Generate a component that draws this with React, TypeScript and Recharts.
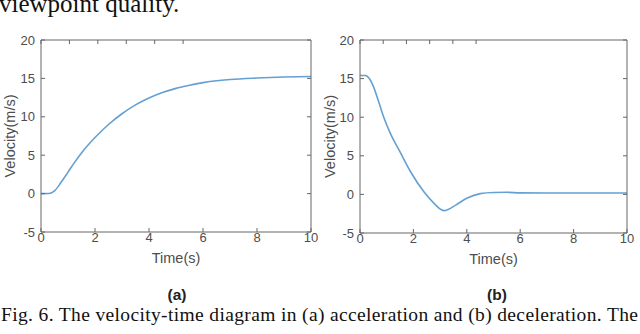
import React from 'react';
import { LineChart, Line, XAxis, YAxis } from 'recharts';

// shared axis ticks
const timeTicks = [0, 2, 4, 6, 8, 10];
const velocityTicks = [-5, 0, 5, 10, 15, 20];

// (a) acceleration
const accelTime = [0, 0.3, 0.5, 0.75, 1.0, 1.25, 1.5, 2.0, 2.5, 3.0, 3.5, 4.0, 4.5, 5.0, 5.5, 6.0, 7.0, 8.0, 9.0, 10.0];
const accelVelocity = [0, 0.02, 0.35, 1.5, 2.8, 4.1, 5.3, 7.3, 9.0, 10.4, 11.55, 12.45, 13.15, 13.7, 14.1, 14.45, 14.85, 15.05, 15.18, 15.25];

// (b) deceleration
const decelTime = [0, 0.2, 0.35, 0.5, 0.7, 0.9, 1.15, 1.5, 1.9, 2.4, 2.8, 3.05, 3.15, 3.3, 3.6, 4.0, 4.5, 5.0, 5.5, 6.0, 7.0, 8.0, 9.0, 10.0];
const decelVelocity = [15.4, 15.4, 15.0, 14.0, 12.0, 9.9, 7.8, 5.5, 2.9, 0.3, -1.25, -2.0, -2.1, -1.95, -1.35, -0.5, 0.1, 0.25, 0.27, 0.2, 0.18, 0.18, 0.18, 0.18];

const toRows = (t: number[], v: number[]) => t.map((time, i) => ({ time, velocity: v[i] }));

const AXIS_COLOR = '#666';
const TEXT_COLOR = '#4d4d4d';
const LINE_COLOR = '#64a0d2';
const FONT = '"Liberation Sans", Arial, sans-serif';
const SERIF = '"Liberation Serif", "Times New Roman", serif';

const tickStyle = { fontSize: 13, fill: TEXT_COLOR, fontFamily: FONT };
const blank = () => '';

interface PanelProps {
  rows: { time: number; velocity: number }[];
  margin: { top: number; right: number; bottom: number; left: number };
  leftWidth: number;
  labelOffset: number;
}

function Panel({ rows, margin, leftWidth, labelOffset }: PanelProps) {
  return (
    <LineChart width={320} height={280} data={rows} margin={margin}>
      <XAxis
        dataKey="time"
        type="number"
        domain={[0, 10]}
        ticks={timeTicks}
        allowDataOverflow
        height={40}
        tickSize={-4}
        tickMargin={5}
        stroke={AXIS_COLOR}
        tick={tickStyle}
        label={{ value: 'Time(s)', position: 'insideBottom', offset: 9, fill: TEXT_COLOR, fontSize: 14.5, fontFamily: FONT }}
      />
      <XAxis
        xAxisId="top"
        orientation="top"
        type="number"
        domain={[0, 10]}
        ticks={timeTicks}
        allowDataOverflow
        height={1}
        tickSize={-4}
        tickFormatter={blank}
        stroke={AXIS_COLOR}
      />
      <YAxis
        type="number"
        domain={[-5, 20]}
        ticks={velocityTicks}
        allowDataOverflow
        width={leftWidth}
        tickSize={-4}
        tickMargin={10}
        stroke={AXIS_COLOR}
        tick={tickStyle}
        label={{
          value: 'Velocity(m/s)',
          angle: -90,
          position: 'insideLeft',
          offset: labelOffset,
          fill: TEXT_COLOR,
          fontSize: 14.5,
          fontFamily: FONT,
          style: { textAnchor: 'middle' },
        }}
      />
      <YAxis
        yAxisId="right"
        orientation="right"
        type="number"
        domain={[-5, 20]}
        ticks={velocityTicks}
        allowDataOverflow
        width={1}
        tickSize={-4}
        tickFormatter={blank}
        stroke={AXIS_COLOR}
      />
      <Line
        type="monotone"
        dataKey="velocity"
        stroke={LINE_COLOR}
        strokeWidth={1.6}
        dot={false}
        isAnimationActive={false}
      />
    </LineChart>
  );
}

export default function App() {
  return (
    <div style={{ position: 'absolute', left: 0, top: 0, width: 640, height: 334, background: '#fff', overflow: 'hidden' }}>
      <svg width={640} height={334} style={{ position: 'absolute', left: 0, top: 0 }}>
        <text x={-1} y={12} fontFamily={SERIF} fontSize={25} fill="#111">
          viewpoint quality.
        </text>
        <text x={177} y={300} textAnchor="middle" fontFamily={FONT} fontWeight="bold" fontSize={15.5} fill="#222">
          (a)
        </text>
        <text x={497} y={300} textAnchor="middle" fontFamily={FONT} fontWeight="bold" fontSize={15.5} fill="#222">
          (b)
        </text>
        <text x={1} y={321} fontFamily={SERIF} fontSize={19.5} fill="#111" textLength={637} lengthAdjust="spacing">
          Fig. 6. The velocity-time diagram in (a) acceleration and (b) deceleration. The
        </text>
      </svg>
      <div style={{ position: 'absolute', left: 0, top: 0 }}>
        <Panel rows={toRows(accelTime, accelVelocity)} margin={{ top: 39, right: 8, bottom: 8, left: 0 }} leftWidth={41} labelOffset={10} />
      </div>
      <div style={{ position: 'absolute', left: 320, top: 0 }}>
        <Panel rows={toRows(decelTime, decelVelocity)} margin={{ top: 39, right: 12, bottom: 7, left: 0 }} leftWidth={40} labelOffset={9.5} />
      </div>
    </div>
  );
}
